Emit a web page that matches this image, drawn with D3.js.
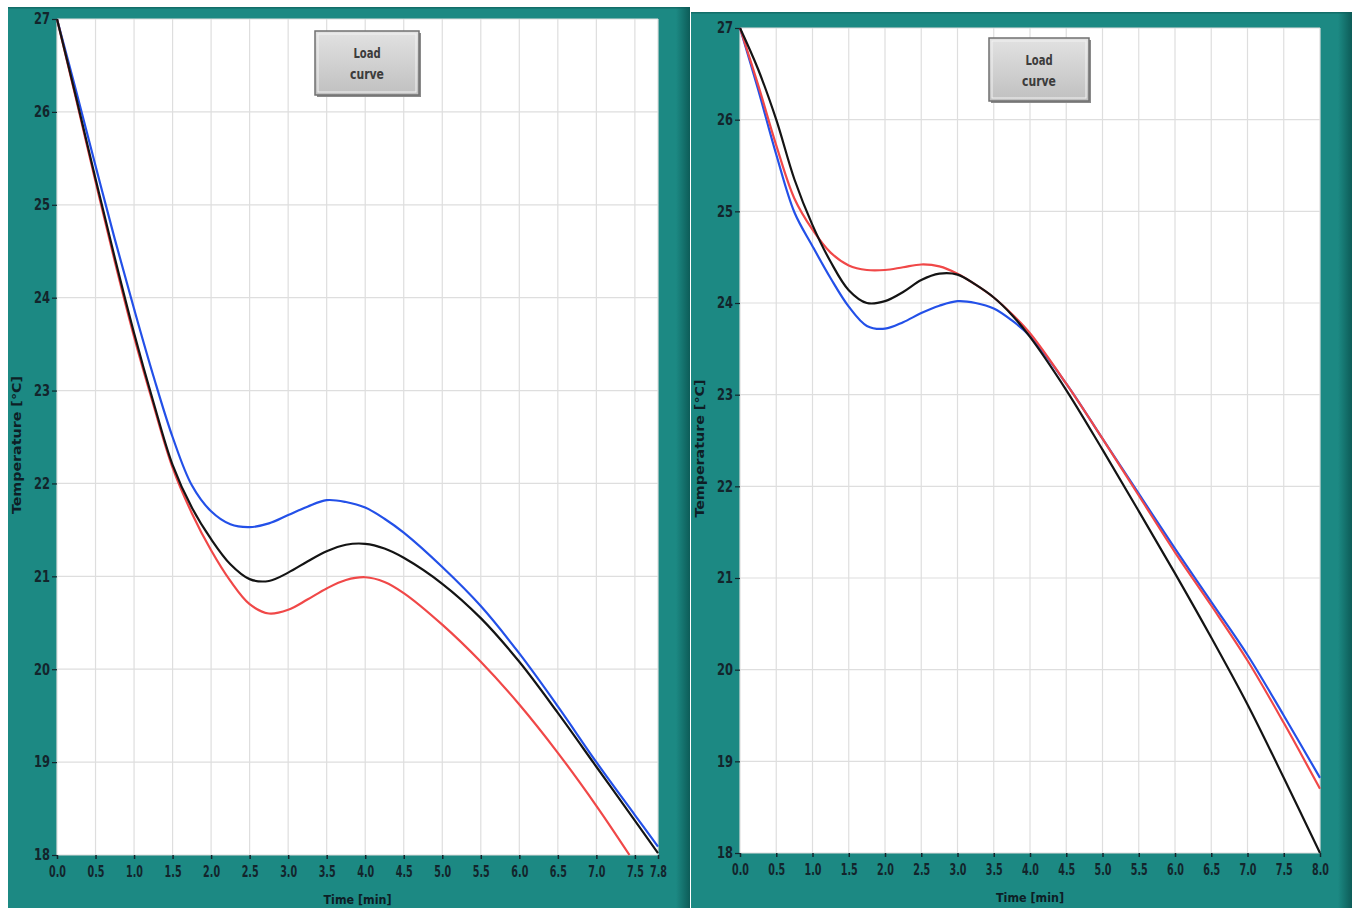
<!DOCTYPE html>
<html>
<head>
<meta charset="utf-8">
<script src="https://cdn.jsdelivr.net/npm/d3@7/dist/d3.min.js"></script>
<style>
  html, body { margin: 0; padding: 0; background: #ffffff; }
  svg { display: block; }
  .tick-label { font-family: "DejaVu Sans Condensed", "Liberation Sans Narrow", sans-serif; font-size: 15px; font-weight: bold; fill: #13252c; }
  .axis-title { font-family: "DejaVu Sans Condensed", "Liberation Sans Narrow", sans-serif; font-size: 12px; font-weight: bold; fill: #0e1e26; }
  .btn-label { font-family: "DejaVu Sans Condensed", "Liberation Sans Narrow", sans-serif; font-size: 14px; font-weight: bold; fill: #3c3c3c; }
</style>
</head>
<body>
<svg id="chart" width="1356" height="908"></svg>
<script>
// ---- Cooling curves, left graph (time in minutes, temperature in °C) ----
const leftTime = [0, 0.25, 0.5, 0.75, 1, 1.25, 1.5, 1.75, 2, 2.25, 2.5, 2.75, 3, 3.25, 3.5, 3.75, 4, 4.25, 4.5, 5, 5.5, 6, 6.5, 7, 7.5, 7.8];
const leftBlue  = [27, 26.22, 25.42, 24.63, 23.88, 23.16, 22.5, 21.98, 21.7, 21.56, 21.53, 21.57, 21.66, 21.75, 21.82, 21.8, 21.74, 21.62, 21.47, 21.1, 20.68, 20.17, 19.6, 19.0, 18.43, 18.09];
const leftBlack = [27, 26.15, 25.28, 24.43, 23.62, 22.88, 22.2, 21.74, 21.4, 21.13, 20.97, 20.95, 21.04, 21.16, 21.27, 21.34, 21.35, 21.3, 21.2, 20.92, 20.55, 20.08, 19.53, 18.95, 18.37, 18.02];
const leftRedTime = [0, 0.25, 0.5, 0.75, 1, 1.25, 1.5, 1.75, 2, 2.25, 2.5, 2.75, 3, 3.25, 3.5, 3.75, 4, 4.25, 4.5, 5, 5.5, 6, 6.5, 7, 7.43];
const leftRed   = [27, 26.13, 25.25, 24.39, 23.58, 22.85, 22.17, 21.68, 21.28, 20.95, 20.7, 20.6, 20.64, 20.75, 20.87, 20.96, 20.99, 20.94, 20.82, 20.48, 20.08, 19.62, 19.1, 18.53, 18.0];

// ---- Cooling curves, right graph ----
const rightTime  = [0, 0.25, 0.5, 0.75, 1, 1.25, 1.5, 1.75, 2, 2.25, 2.5, 2.75, 3, 3.25, 3.5, 3.75, 4, 4.5, 5, 5.5, 6, 6.5, 7, 7.5, 8];
const rightBlue  = [27, 26.33, 25.62, 24.99, 24.62, 24.27, 23.96, 23.75, 23.72, 23.79, 23.89, 23.97, 24.02, 24.0, 23.94, 23.81, 23.64, 23.12, 22.52, 21.92, 21.32, 20.74, 20.16, 19.5, 18.82];
const rightBlack = [27, 26.55, 26.0, 25.35, 24.85, 24.45, 24.14, 24.0, 24.02, 24.12, 24.25, 24.32, 24.31, 24.2, 24.06, 23.87, 23.63, 23.05, 22.4, 21.73, 21.05, 20.35, 19.62, 18.82, 18.0];
const rightRed   = [27, 26.38, 25.72, 25.14, 24.8, 24.55, 24.41, 24.36, 24.36, 24.39, 24.42, 24.4, 24.32, 24.2, 24.06, 23.88, 23.67, 23.12, 22.52, 21.9, 21.28, 20.7, 20.1, 19.42, 18.7];

// ---- Axis ticks ----
const tempTicks = [18, 19, 20, 21, 22, 23, 24, 25, 26, 27];
const leftTimeTicks  = [0, 0.5, 1, 1.5, 2, 2.5, 3, 3.5, 4, 4.5, 5, 5.5, 6, 6.5, 7, 7.5, 7.8];
const rightTimeTicks = [0, 0.5, 1, 1.5, 2, 2.5, 3, 3.5, 4, 4.5, 5, 5.5, 6, 6.5, 7, 7.5, 8];

const xTitle = "Time [min]";
const yTitle = "Temperature [°C]";
const buttonLines = ["Load", "curve"];

const seriesColors = { blue: "#2350e8", red: "#f04848", black: "#141414" };
const TEAL = "#1c8983";
const TEAL_DARK = "#0d5c58";

const panels = [
  {
    frame: { x: 8, y: 7, w: 682, h: 901 },
    plot: { x0: 57, x1: 658, y0: 19, y1: 855 },
    xMax: 7.8, xTicks: leftTimeTicks,
    button: { x: 315, y: 31, w: 104, h: 64 },
    series: [
      { t: leftTime, v: leftBlue, color: seriesColors.blue },
      { t: leftRedTime, v: leftRed, color: seriesColors.red },
      { t: leftTime, v: leftBlack, color: seriesColors.black }
    ]
  },
  {
    frame: { x: 691, y: 12, w: 661, h: 896 },
    plot: { x0: 740, x1: 1320, y0: 28, y1: 853 },
    xMax: 8, xTicks: rightTimeTicks,
    button: { x: 989, y: 38, w: 100, h: 63 },
    series: [
      { t: rightTime, v: rightBlue, color: seriesColors.blue },
      { t: rightTime, v: rightRed, color: seriesColors.red },
      { t: rightTime, v: rightBlack, color: seriesColors.black }
    ]
  }
];

const svg = d3.select("#chart");
const defs = svg.append("defs");

// shading on the right edge of each panel frame
const edgeGrad = defs.append("linearGradient").attr("id", "edgeShade").attr("x1", 0).attr("x2", 1);
edgeGrad.append("stop").attr("offset", "0%").attr("stop-color", TEAL);
edgeGrad.append("stop").attr("offset", "100%").attr("stop-color", TEAL_DARK);

const btnGrad = defs.append("linearGradient").attr("id", "btnFill").attr("x1", 0).attr("x2", 0).attr("y1", 0).attr("y2", 1);
btnGrad.append("stop").attr("offset", "0%").attr("stop-color", "#e2e2e2");
btnGrad.append("stop").attr("offset", "100%").attr("stop-color", "#c0c0c0");

panels.forEach(p => {
  const g = svg.append("g");
  const f = p.frame;

  // panel frame
  g.append("rect").attr("x", f.x).attr("y", f.y).attr("width", f.w).attr("height", f.h).attr("fill", TEAL);
  g.append("rect").attr("x", f.x + f.w - 14).attr("y", f.y).attr("width", 14).attr("height", f.h).attr("fill", "url(#edgeShade)");
  g.append("rect").attr("x", f.x).attr("y", f.y).attr("width", f.w).attr("height", 1.5).attr("fill", TEAL_DARK).attr("opacity", 0.6);

  const x = d3.scaleLinear().domain([0, p.xMax]).range([p.plot.x0, p.plot.x1]);
  const y = d3.scaleLinear().domain([18, 27]).range([p.plot.y1, p.plot.y0]);

  // plot background
  g.append("rect")
    .attr("x", p.plot.x0).attr("y", p.plot.y0)
    .attr("width", p.plot.x1 - p.plot.x0).attr("height", p.plot.y1 - p.plot.y0)
    .attr("fill", "#ffffff");

  // grid
  g.append("g").selectAll("line").data(p.xTicks).join("line")
    .attr("x1", d => x(d)).attr("x2", d => x(d))
    .attr("y1", p.plot.y0).attr("y2", p.plot.y1)
    .attr("stroke", "#dedede").attr("stroke-width", 1.2);
  g.append("g").selectAll("line").data(tempTicks).join("line")
    .attr("x1", p.plot.x0).attr("x2", p.plot.x1)
    .attr("y1", d => y(d)).attr("y2", d => y(d))
    .attr("stroke", "#dedede").attr("stroke-width", 1.2);

  // x axis
  const xAxis = d3.axisBottom(x).tickValues(p.xTicks).tickFormat(d3.format(".1f")).tickSize(4).tickPadding(7);
  const gx = g.append("g").attr("transform", `translate(0,${p.plot.y1})`).call(xAxis);
  gx.select(".domain").remove();
  gx.selectAll(".tick line").attr("stroke", "#13252c").attr("stroke-width", 1.5);
  gx.selectAll(".tick text")
    .attr("class", "tick-label").attr("font-family", null).attr("font-size", null).attr("fill", null)
    .attr("textLength", 17).attr("lengthAdjust", "spacingAndGlyphs");

  // y axis
  const yAxis = d3.axisLeft(y).tickValues(tempTicks).tickFormat(d3.format("d")).tickSize(5).tickPadding(2);
  const gy = g.append("g").attr("transform", `translate(${p.plot.x0},0)`).call(yAxis);
  gy.select(".domain").remove();
  gy.selectAll(".tick line").attr("stroke", "#13252c").attr("stroke-width", 1.2);
  gy.selectAll(".tick text")
    .attr("class", "tick-label").attr("font-family", null).attr("font-size", null).attr("fill", null)
    .attr("textLength", 16).attr("lengthAdjust", "spacingAndGlyphs");

  // axis titles
  g.append("text").attr("class", "axis-title")
    .attr("x", (p.plot.x0 + p.plot.x1) / 2).attr("y", p.plot.y1 + 49)
    .attr("text-anchor", "middle")
    .attr("textLength", 68).attr("lengthAdjust", "spacingAndGlyphs")
    .text(xTitle);
  g.append("text").attr("class", "axis-title")
    .attr("transform", `translate(${f.x + 13},${(p.plot.y0 + p.plot.y1) / 2 + 8}) rotate(-90)`)
    .attr("text-anchor", "middle")
    .attr("textLength", 138).attr("lengthAdjust", "spacingAndGlyphs")
    .text(yTitle);

  // curves
  const line = d3.line().curve(d3.curveCatmullRom.alpha(0.5))
    .x(d => x(d[0])).y(d => y(d[1]));
  p.series.forEach(s => {
    g.append("path")
      .datum(s.t.map((t, k) => [t, s.v[k]]))
      .attr("d", line)
      .attr("fill", "none")
      .attr("stroke", s.color)
      .attr("stroke-width", 2.2)
      .attr("stroke-linejoin", "round");
  });

  // "Load curve" button
  const b = p.button;
  const bg = g.append("g");
  bg.append("rect").attr("x", b.x + 2).attr("y", b.y + 2).attr("width", b.w).attr("height", b.h).attr("fill", "#8a8a8a");
  bg.append("rect").attr("x", b.x).attr("y", b.y).attr("width", b.w).attr("height", b.h)
    .attr("fill", "url(#btnFill)").attr("stroke", "#707070").attr("stroke-width", 1.5);
  bg.append("rect").attr("x", b.x + 3).attr("y", b.y + 3).attr("width", b.w - 6).attr("height", b.h - 6)
    .attr("fill", "none").attr("stroke", "#f2f2f2").attr("stroke-width", 1);
  buttonLines.forEach((txt, k) => {
    bg.append("text").attr("class", "btn-label")
      .attr("x", b.x + b.w / 2).attr("y", b.y + 27 + k * 21)
      .attr("text-anchor", "middle")
      .attr("textLength", txt.length * 6.8).attr("lengthAdjust", "spacingAndGlyphs")
      .text(txt);
  });
});
</script>
</body>
</html>
